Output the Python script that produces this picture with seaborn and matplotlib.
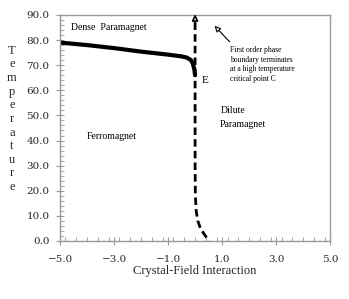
import numpy as np
import pandas as pd
import seaborn as sns
import matplotlib.pyplot as plt
from matplotlib.ticker import MultipleLocator

# phase boundary data
solid_x = [-5.0, -4.0, -3.0, -2.0, -1.0, -0.5, -0.3, -0.15, -0.08, -0.03, 0.0]
solid_y = [79.0, 78.0, 76.8, 75.4, 74.2, 73.5, 73.0, 72.0, 70.5, 68.5, 66.0]
dash_x = [0.0, 0.0, 0.0, 0.0, 0.01, 0.04, 0.1, 0.2, 0.32, 0.45, 0.52]
dash_y = [87.0, 70.0, 50.0, 30.0, 18.0, 12.0, 8.0, 5.0, 3.0, 1.0, 0.0]

xticks = [-5.0, -3.0, -1.0, 1.0, 3.0, 5.0]
yticks = np.arange(0, 100, 10)

sns.set_style('ticks')
plt.rcParams['font.family'] = ['DejaVu Serif']

fig = plt.figure(figsize=(3.49, 2.99), dpi=100)
ax = fig.add_axes([0.172, 0.194, 0.774, 0.756])

first = pd.DataFrame({'x': solid_x, 'y': solid_y})
second = pd.DataFrame({'x': dash_x, 'y': dash_y})
sns.lineplot(data=first, x='x', y='y', sort=False, estimator=None,
             color='black', lw=3, ax=ax)
sns.lineplot(data=second, x='x', y='y', sort=False, estimator=None,
             color='black', lw=2, ax=ax)
ax.lines[-1].set_dashes([2.7, 1.5])

# open arrow heads
ax.annotate('', xy=(0, 90.3), xytext=(0, 86.0), annotation_clip=False,
            arrowprops=dict(arrowstyle='-|>', fc='white', ec='black', lw=1.2,
                            mutation_scale=9, shrinkA=0, shrinkB=0))
ax.annotate('', xy=(0.65, 86.5), xytext=(1.35, 78.5),
            arrowprops=dict(arrowstyle='-|>', fc='white', ec='black', lw=0.8,
                            mutation_scale=9))

ax.set_xlim(-5, 5)
ax.set_ylim(0, 90)
ax.set_xticks(xticks)
ax.set_xticklabels(['\u22125.0', '\u22123.0', '\u22121.0', '1.0', '3.0', '5.0'])
ax.set_yticks(yticks)
ax.set_yticklabels(['%.1f' % v for v in yticks])
ax.xaxis.set_minor_locator(MultipleLocator(0.4))
ax.yaxis.set_minor_locator(MultipleLocator(2))
ax.tick_params(which='major', direction='inout', length=6, width=0.8,
               color='#999999', labelsize=7.5, top=False, right=False)
ax.tick_params(axis='x', which='major', pad=7)
ax.tick_params(axis='y', which='major', pad=4.5)
ax.tick_params(which='minor', direction='in', length=3, width=0.8,
               color='#aaaaaa', top=False, right=False)
for s in ax.spines.values():
    s.set_color('#999999')
    s.set_linewidth(1)

ax.set_xlabel('Crystal-Field Interaction', family='Liberation Serif',
              fontsize=9, labelpad=1)
ax.set_ylabel('')
fig.text(0.034, 0.85, '\n'.join('Temperature'), family='Liberation Serif',
         fontsize=9, ha='center', va='top', linespacing=1.18)

tx = dict(family='Liberation Serif', color='black')
ax.text(-4.6, 84.0, 'Dense  Paramagnet', fontsize=7, **tx)
ax.text(-4.0, 40.5, 'Ferromagnet', fontsize=7, **tx)
ax.text(0.25, 63.0, 'E', fontsize=8, **tx)
ax.text(0.95, 51.0, 'Dilute', fontsize=7, **tx)
ax.text(0.9, 45.5, 'Paramagnet', fontsize=7, **tx)
ax.text(1.3, 77.5, 'First order phase\nboundary terminates\nat a high temperature\ncritical point C',
        fontsize=5.5, va='top', linespacing=1.25, **tx)

plt.savefig('out.png', dpi=100)
